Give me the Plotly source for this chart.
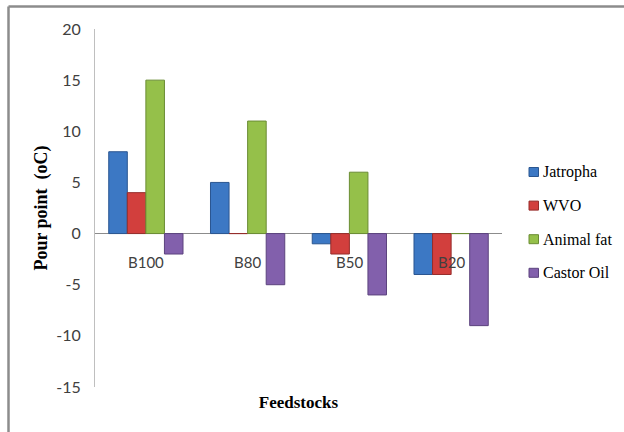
import plotly.graph_objects as go

# Pour point of each blend, by feedstock
blends = ["B100", "B80", "B50", "B20"]
jatropha = [8, 5, -1, -4]
wvo = [4, 0, -2, -4]
animal_fat = [15, 11, 6, 0]
castor_oil = [-2, -5, -6, -9]
y_ticks = [-15, -10, -5, 0, 5, 10, 15, 20]

series = [
    ("Jatropha", jatropha, "#3C78C4", "#2A5690"),
    ("WVO", wvo, "#D23F3D", "#962D2B"),
    ("Animal fat", animal_fat, "#95C04A", "#6A8C33"),
    ("Castor Oil", castor_oil, "#8260AC", "#5C437E"),
]

W, H = 624, 432
ml, mr, mt, mb = 95, 122, 29, 45
pw, ph = W - ml - mr, H - mt - mb


def px_x(p):
    return (p - ml) / pw


def px_y(p):
    return (H - mb - p) / ph


fig = go.Figure()
for name, vals, fill, edge in series:
    fig.add_trace(go.Bar(
        x=blends, y=vals, name=name, showlegend=False,
        marker=dict(color=fill, line=dict(color=edge, width=1)),
        hoverinfo="skip",
    ))

# category labels sit just below the zero line
for b in blends:
    fig.add_annotation(x=b, y=0, text=b, showarrow=False, yanchor="top",
                       yshift=-17, font=dict(family="Lato", size=15, color="#404040"))

# legend: coloured swatch + serif label, stacked on the right
for i, (name, vals, fill, edge) in enumerate(series):
    cy = 172 + i * 33.6
    fig.add_shape(type="rect", xref="paper", yref="paper",
                  x0=px_x(529), x1=px_x(538.5), y0=px_y(cy + 4.5), y1=px_y(cy - 4.5),
                  fillcolor=fill, line=dict(color=edge, width=1))
    fig.add_annotation(xref="paper", yref="paper", x=px_x(541), y=px_y(cy),
                       xanchor="left", yanchor="middle", text=name, showarrow=False,
                       font=dict(family="Liberation Serif", size=16, color="#000"))

# chart-area frame (left and top edges)
fx = px_x(8.5)
fy = px_y(6.5)
fig.add_shape(type="line", xref="paper", yref="paper", x0=fx, x1=1.3, y0=fy, y1=fy,
              line=dict(color="#8C8C8C", width=2.5))
fig.add_shape(type="line", xref="paper", yref="paper", x0=fx, x1=fx, y0=fy, y1=-0.3,
              line=dict(color="#8C8C8C", width=2.5))

fig.update_layout(
    width=W, height=H,
    margin=dict(l=ml, r=mr, t=mt, b=mb, autoexpand=False),
    paper_bgcolor="white", plot_bgcolor="white",
    barmode="group", bargap=0.27, bargroupgap=0,
    showlegend=False,
    xaxis=dict(showticklabels=False, showline=False, showgrid=False, ticks="",
               automargin=False,
               title=dict(text="<b>Feedstocks</b>", standoff=9,
                          font=dict(family="Liberation Serif", size=17, color="#000"))),
    yaxis=dict(range=[-15, 20], tickvals=y_ticks, ticktext=[str(v) for v in y_ticks],
               showgrid=False, ticks="", automargin=False, ticklabelstandoff=10,
               showline=True, linecolor="#BFBFBF", linewidth=1,
               zeroline=True, zerolinecolor="#8C8C8C", zerolinewidth=1,
               tickfont=dict(family="Lato", size=16, color="#404040"),
               title=dict(text="<b>Pour point  (oC)</b>", standoff=3,
                          font=dict(family="Liberation Serif", size=18, color="#000"))),
)

fig.write_html("out.html")
